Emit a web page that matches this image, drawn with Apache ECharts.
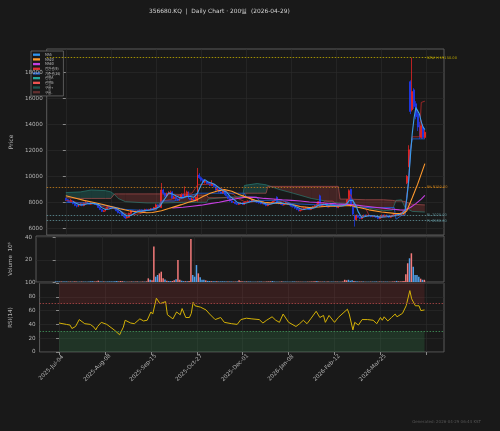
<!DOCTYPE html>
<html><head><meta charset="utf-8">
<script src="https://cdn.jsdelivr.net/npm/echarts@6/dist/echarts.min.js"></script>
<style>html,body{margin:0;padding:0;background:#191919;}#c{width:500px;height:431px;}</style>
</head><body><div id="c"></div>
<script>
// ---------- DATA ----------
const tickIdx = [0,25,50,75,100,125,150,175,200];
const tickLabels = ['2025-Jul-04','2025-Aug-08','2025-Sep-15','2025-Oct-27','2025-Dec-01','2026-Jan-08','2026-Feb-12','2026-Mar-25'];

const opens = [8300,8200,8100,8000,8100,7900,7750,7700,7800,7850,
7750,7950,8000,7900,7850,7950,7900,7850,7800,7600,
7450,7300,7350,7500,7650,7600,7550,7600,7500,7350,
7200,7150,7000,6900,6800,6850,7150,7350,7300,7250,
7300,7350,7400,7300,7350,7450,7400,7450,7500,7450,
7600,7800,7700,7600,8950,8700,8500,8650,8750,8800,
8300,8400,8250,8150,8300,8600,8450,8500,8800,8300,
8200,8250,8150,8100,10100,9900,9750,9550,9600,9500,
9450,9300,9400,9200,8950,9000,8800,8700,8900,8600,
8500,8300,8100,8000,8000,7900,7850,7900,7950,7850,
8000,8050,8100,8050,8200,8100,8050,8000,7950,7900,
7950,7850,7750,7850,7900,8000,8100,8400,7950,7900,
7850,7800,7900,8000,7850,7800,7700,7650,7550,7450,
7350,7400,7450,7550,7600,7500,7450,7550,7650,7750,
7850,8500,7700,7800,7850,7900,7650,7750,7900,7800,
7700,7600,7700,7800,7750,7800,7900,8200,9000,7700,
7000,6650,7000,6850,6750,6900,7000,6950,7000,6950,
6900,6950,6900,6850,6750,6850,7000,6900,7000,6950,
6850,6950,7000,7050,7100,7050,7100,7200,7250,9500,
10750,17300,15130,16670,15600,14800,14000,13000,13800,13000];

const closes = [8200,8100,8000,8150,7900,7750,7700,7800,7850,7750,
7950,8000,7900,7850,7950,7900,7850,7800,7600,7450,
7300,7350,7500,7650,7600,7550,7600,7500,7350,7200,
7150,7000,6900,6800,6850,7150,7350,7300,7250,7300,
7350,7400,7300,7350,7450,7400,7450,7500,7450,7600,
7800,7700,7750,8950,8700,8500,8650,8750,8800,8300,
8400,8250,8150,8300,8600,8450,8500,8800,8300,8200,
8250,8150,8400,10100,9900,9700,9550,9600,9500,9450,
9300,9400,9200,8950,9000,8800,8700,8900,8600,8500,
8300,8100,8000,8000,7900,7850,7900,7950,7850,8000,
8050,8100,8050,8200,8100,8050,8000,7950,7900,7950,
7850,7750,7850,7900,8000,8100,8200,7950,7900,7850,
7800,7900,8000,7850,7800,7700,7650,7550,7450,7350,
7400,7450,7550,7600,7500,7450,7550,7650,7750,7850,
8050,7700,7800,7850,7900,7650,7750,7900,7800,7700,
7600,7700,7800,7750,7800,7900,8200,8900,7800,7100,
6650,7000,6850,6750,6900,7000,6950,7000,6950,6900,
6950,6900,6850,6750,6850,7000,6900,7000,6950,6850,
6950,7000,7050,7100,7050,7100,7200,7250,7350,10000,
12050,15000,16540,15380,14600,13800,13000,13900,13000,13400];

const highs = [8350,8250,8150,8250,8150,7950,7800,7850,7950,7900,
8000,8100,8050,7950,8000,8000,7950,7900,7850,7650,
7500,7400,7550,7750,7700,7650,7650,7650,7550,7400,
7250,7200,7050,6950,6950,7200,7400,7400,7350,7350,
7400,7450,7450,7400,7500,7500,7500,7550,7550,7650,
7900,7850,7800,9490,9050,8750,8750,8850,8900,8850,
8500,8450,8300,8350,8700,8650,9230,8900,8850,8350,
8350,8300,8450,10650,10250,10000,9850,9750,9650,9550,
9500,9700,9450,9250,9100,9050,8850,8950,8950,8650,
8550,8350,8150,8050,8050,7950,7950,8000,8000,8050,
8100,8150,8150,8250,8250,8150,8100,8050,8000,8000,
8000,7900,7900,7950,8050,8150,8250,8460,8000,7950,
7900,7950,8050,8050,7900,7850,7750,7700,7600,7500,
7450,7500,7600,7650,7650,7550,7600,7700,7800,7900,
8100,8590,7850,7900,7950,7950,7800,7950,7950,7850,
7750,7750,7850,7850,7850,7950,8250,9000,9050,7750,
7050,7050,7050,6900,6950,7050,7050,7050,7050,7000,
7000,7000,6950,6900,6900,7050,7050,7050,7050,7000,
7000,7050,7100,7150,7150,7150,7250,7300,7400,10100,
12400,17400,19150,16800,15800,15000,14200,14300,14000,13600];

const lows = [8100,8050,7950,7950,7850,7700,7600,7650,7750,7700,
7700,7900,7850,7800,7800,7850,7800,7750,7550,7400,
7250,7250,7300,7450,7550,7500,7500,7450,7300,7150,
7100,6950,6850,6720,6750,6800,7100,7250,7200,7200,
7250,7300,7250,7250,7300,7350,7350,7400,7400,7400,
7550,7650,7650,7550,8600,8400,8450,8600,8650,8250,
8250,8200,8100,8100,8250,8400,8400,8450,8250,8150,
8150,8100,8100,8050,9800,9600,9450,9450,9400,9350,
9250,9250,9150,8900,8900,8750,8650,8650,8550,8450,
8250,8050,7950,7950,7850,7800,7800,7850,7800,7800,
7950,8000,8000,8000,8050,8000,7950,7900,7850,7850,
7800,7700,7700,7800,7850,7950,8050,7900,7850,7800,
7750,7750,7850,7800,7750,7650,7600,7500,7400,7300,
7300,7350,7400,7500,7450,7400,7400,7500,7600,7700,
7800,7650,7650,7750,7800,7600,7600,7700,7750,7650,
7550,7550,7650,7700,7700,7750,7850,8150,7650,7000,
6130,6600,6800,6700,6700,6850,6900,6900,6900,6850,
6850,6850,6800,6700,6700,6800,6850,6850,6900,6800,
6800,6900,6950,7000,7000,7000,7050,7150,7200,9400,
10700,14800,15000,15200,14400,13500,12900,12900,12900,12900];

const volumes = [0.6,0.5,0.5,0.4,0.5,0.4,0.4,0.3,0.4,0.3,
0.5,0.4,0.3,0.3,0.4,0.3,0.3,0.3,0.5,0.6,
0.7,0.4,0.5,1.2,0.5,0.4,0.4,0.3,0.4,0.5,
0.4,0.5,0.6,0.8,0.5,0.9,0.7,0.4,0.3,0.3,
0.3,0.4,0.3,0.3,0.4,0.3,0.3,0.4,0.3,0.5,
3.3,2.0,1.5,32,4.8,6.3,7.8,9.3,3.3,2.2,
1.2,0.9,0.8,0.9,1.5,2.4,19.9,2.0,1.2,0.8,
0.7,0.6,1.0,38.8,6.3,4.8,15.3,7.8,4.2,2.0,
2.0,1.5,1.0,0.9,0.7,0.6,0.6,0.7,0.5,0.5,
0.6,0.5,0.5,0.4,0.4,0.4,0.3,0.3,0.4,1.5,
0.6,0.5,0.4,0.5,0.4,0.4,0.3,0.3,0.3,0.3,
0.4,0.4,0.3,0.3,0.4,0.5,0.6,0.9,0.4,0.3,
0.3,0.3,0.5,0.3,0.3,0.3,0.3,0.3,0.4,0.4,
0.3,0.3,0.3,0.3,0.3,0.3,0.3,0.3,0.4,0.4,
0.6,1.0,0.4,0.3,0.3,0.4,0.3,0.4,0.3,0.3,
0.3,0.3,0.3,0.3,0.3,0.5,2.0,1.5,2.0,1.2,
1.5,0.8,0.6,0.5,0.4,0.4,0.4,0.3,0.3,0.3,
0.3,0.3,0.3,0.4,0.3,0.4,0.3,0.3,0.3,0.3,
0.3,0.3,0.4,0.5,1.0,0.6,0.5,0.6,1.0,6.9,
16.9,21.4,25.9,13.8,6.3,6.3,4.8,3.0,2.0,2.0];

const ma5 = [[4,8070],[6,7900],[8,7800],[10,7810],[12,7890],[14,7930],[16,7900],[18,7820],[20,7590],[22,7440],[24,7480],[26,7580],[28,7520],[30,7360],[32,7120],[34,6940],[36,6990],[38,7150],[40,7300],[42,7320],[44,7360],[46,7390],[48,7450],[50,7540],[52,7660],[53,7900],[55,8300],[57,8720],[59,8640],[61,8500],[63,8370],[65,8360],[67,8470],[69,8450],[71,8390],[72,8370],[73,8700],[74,9040],[75,9330],[76,9560],[77,9750],[79,9560],[81,9470],[83,9330],[85,9100],[87,8920],[89,8800],[91,8460],[93,8240],[95,7990],[97,7920],[99,7910],[101,7980],[103,8080],[105,8100],[107,8060],[109,7960],[111,7880],[113,7850],[115,7920],[116,8000],[118,8030],[120,7940],[122,7890],[124,7870],[126,7790],[128,7630],[130,7510],[132,7440],[134,7510],[136,7530],[138,7580],[140,7770],[141,7800],[143,7850],[145,7800],[147,7780],[149,7750],[151,7740],[153,7710],[155,7790],[156,7890],[157,8120],[158,8130],[159,8160],[160,7930],[161,7690],[162,7280],[164,6830],[166,6900],[168,6960],[170,6960],[172,6920],[174,6860],[176,6870],[178,6890],[180,6920],[182,6970],[184,7040],[186,7100],[187,7140],[188,7400],[189,8300],[190,9700],[191,11600],[192,13300],[193,14500],[194,15300],[195,15250],[196,14800],[197,14200],[198,13800],[199,13600]];

const ma20 = [[0,8500],[5,8330],[10,8150],[15,8000],[20,7850],[25,7680],[30,7500],[35,7350],[40,7250],[45,7200],[48,7220],[53,7350],[57,7520],[60,7650],[64,7820],[68,8000],[72,8150],[76,8450],[80,8700],[84,8870],[88,8980],[92,8850],[96,8600],[100,8400],[105,8150],[110,8000],[115,7950],[120,7920],[125,7830],[130,7680],[135,7600],[140,7640],[145,7700],[150,7700],[155,7740],[158,7760],[162,7620],[168,7420],[175,7250],[182,7150],[187,7120],[189,7350],[192,8350],[195,9400],[199,10980]];

const ma60 = [[59,7560],[65,7620],[70,7700],[75,7780],[80,7900],[85,8000],[90,8150],[95,8300],[100,8400],[105,8380],[110,8300],[115,8260],[120,8200],[125,8150],[130,8100],[135,8030],[140,7980],[145,7930],[150,7880],[155,7840],[160,7800],[165,7720],[170,7640],[175,7560],[180,7480],[185,7420],[188,7400],[191,7600],[194,7900],[197,8250],[199,8540]];

const tenkan = [[0,8150],[4,8050],[8,7950],[12,7900],[16,7900],[20,7700],[24,7550],[28,7500],[32,7200],[35,7050],[38,7050],[42,7150],[45,7400],[50,7450],[53,8100],[58,8200],[62,8500],[66,8700],[70,8700],[73,9350],[80,9400],[82,9450],[84,9200],[88,8950],[90,8750],[93,8600],[96,8250],[100,8000],[104,8050],[108,8100],[112,7900],[116,7950],[120,8100],[124,7950],[128,7750],[132,7550],[136,7550],[140,7750],[144,8100],[148,8100],[150,7800],[154,7750],[156,8000],[157,8400],[158,8600],[160,7600],[166,7600],[168,7000],[172,6900],[178,6900],[182,6950],[186,7000],[188,7100],[189,8600],[190,9700],[191,12100],[192,13050],[196,13050],[197,15700],[199,15800]];

const kijun = [[0,8000],[12,7950],[20,7800],[28,7600],[33,7450],[40,7400],[50,7400],[53,8100],[60,8100],[73,8700],[99,8700],[100,8400],[106,8400],[107,8150],[120,8150],[125,7900],[140,7800],[156,7800],[157,8200],[159,8200],[160,7600],[182,7600],[183,6700],[186,6980],[188,6980],[189,8380],[190,9480],[191,12030],[192,12890],[199,12890]];

const cloudIdx = [0,8,14,22,25,27,29,33,45,55,65,78,79,90,98,99,100,106,111,112,118,126,136,146,151,152,156,166,176,181,183,186,188,192,199];
const spanA = [8750,8800,8950,8900,8800,8600,8300,8050,7950,7950,8000,8000,8250,8400,8450,9300,9350,9450,9350,9300,9000,8700,8300,8050,7950,7950,7900,7600,7350,7400,8150,8200,7600,7300,7250];
const spanB = [8350,8300,8300,8300,8300,8650,8650,8650,8650,8650,8600,8550,8350,8350,8350,8700,8700,8700,8700,9230,9230,9230,9230,9230,9230,8250,8250,8200,8200,8150,8100,8100,8050,7850,7800];

const rsi = [[0,42],[4,40],[6,39],[7,34],[9,37],[11,47],[14,41],[17,40],[19,36],[20,32],[21,37],[23,43],[26,40],[27,39],[30,32],[33,25],[35,36],[36,46],[39,42],[41,41],[44,48],[46,45],[48,46],[50,58],[51,55],[53,78],[55,70],[58,73],[59,54],[62,48],[64,58],[66,54],[67,63],[69,50],[71,50],[72,56],[73,72],[74,67],[77,65],[80,61],[82,55],[85,47],[88,50],[90,43],[92,42],[94,41],[97,40],[99,47],[102,49],[103,51],[105,48],[109,47],[111,42],[113,46],[116,51],[118,46],[120,43],[122,55],[125,43],[129,37],[131,41],[133,46],[135,41],[137,48],[140,59],[142,50],[144,53],[145,43],[147,53],[150,43],[152,50],[157,62],[158,55],[160,32],[161,43],[163,39],[165,47],[168,47],[171,46],[173,41],[175,50],[176,46],[177,51],[179,45],[181,50],[183,55],[184,51],[187,56],[189,67],[191,89],[192,77],[194,67],[196,67],[197,60],[199,61]];

const levels = [19150, 9150, 7020, 6580];
const levelLabels = ['52W H 19150.00', 'PH 9150.00', 'PL 7020.00', 'PL 6580.00'];
const priceTicks = [6000,8000,10000,12000,14000,16000,18000];

// ---------- STYLE ----------
const BG = '#191919';
const UP = '#ff2626', DOWN = '#1f3cff';
const VUP = '#f47a7a', VDOWN = '#4f9ee8';
const C = {ma5:'#3d9be9', ma20:'#ff9a2e', ma60:'#c53fe0', tenkan:'#b72a2a', kijun:'#1d5fd6',
           spanA:'#2a8a7e', spanB:'#c25555', cloudUp:'rgba(38,166,154,0.24)', cloudDn:'rgba(200,70,70,0.24)'};
const levelColors = ['#b8a400', '#c07a1a', '#5d8c93', '#5d8c93'];
const lblColor = '#b4b4b4';
const FONT = 'DejaVu Sans';
const n = closes.length;
const xMin = -10.6, xMax = 209.6;
const topTick = priceTicks[priceTicks.length - 1];

function xAxisFor(g, labels) {
  return {
    type: 'value', gridIndex: g, min: xMin, max: xMax,
    axisLine: {show: false},
    axisTick: {show: labels, length: 3, lineStyle: {color: '#888'}, customValues: tickIdx},
    axisLabel: labels ? {show: true, customValues: tickIdx.slice(0, tickLabels.length),
      formatter: v => tickLabels[Math.round(v / 25)] || '', rotate: 45, align: 'center', verticalAlign: 'middle',
      margin: 8, padding: [0, 22, 0, 0], fontSize: 5.6, color: lblColor, fontFamily: FONT} : {show: false},
    splitLine: {show: true, lineStyle: {color: '#2b2b2b', width: 0.6}}
  };
}

const candleData = [];
for (let i = 0; i < n; i++) candleData.push([i, opens[i], closes[i], lows[i], highs[i]]);
const volData = [];
for (let i = 0; i < n; i++) volData.push({value: [i, volumes[i]], itemStyle: {color: closes[i] >= opens[i] ? VUP : VDOWN}});

function cloudRender(sign) {
  return function (params, api) {
    const i = params.dataIndex;
    if (i >= cloudIdx.length - 1) return null;
    const a0 = api.coord([cloudIdx[i], spanA[i]]), a1 = api.coord([cloudIdx[i+1], spanA[i+1]]);
    const b0 = api.coord([cloudIdx[i], spanB[i]]), b1 = api.coord([cloudIdx[i+1], spanB[i+1]]);
    const d0 = spanA[i] - spanB[i], d1 = spanA[i+1] - spanB[i+1];
    const color = sign > 0 ? C.cloudUp : C.cloudDn;
    const polys = [];
    if (d0 * d1 >= 0) {
      const s = (d0 + d1);
      if ((sign > 0 && s > 0) || (sign < 0 && s < 0)) polys.push([a0, a1, b1, b0]);
    } else {
      const t = d0 / (d0 - d1);
      const x = [a0[0] + t * (a1[0] - a0[0]), a0[1] + t * (a1[1] - a0[1])];
      if ((d0 > 0) === (sign > 0)) polys.push([a0, x, b0]);
      if ((d1 > 0) === (sign > 0)) polys.push([x, a1, b1]);
    }
    return {type: 'group', children: polys.map(p => ({type: 'polygon', shape: {points: p}, style: {fill: color}}))};
  };
}
const cloudData = cloudIdx.map((x, k) => [x, spanA[k], spanB[k]]);

function lineSeries(name, data, color, width, z, opacity) {
  return {name, type: 'line', xAxisIndex: 0, yAxisIndex: 0, data, showSymbol: false, symbol: 'none',
    lineStyle: {color, width, opacity: opacity == null ? 1 : opacity}, itemStyle: {color}, z, silent: true, animation: false};
}

const yLabel = {fontSize: 5.6, color: lblColor, margin: 4, fontFamily: FONT};

const markPts = levels.map((v, k) => ({coord: [200, v], symbol: 'rect', symbolSize: 0,
  label: {show: true, position: 'right', distance: 0, formatter: levelLabels[k], color: levelColors[k], fontSize: 3.6, fontFamily: FONT}}));

const chart = echarts.init(document.getElementById('c'), null, {renderer: 'canvas'});
chart.setOption({
  backgroundColor: BG,
  animation: false,
  textStyle: {fontFamily: FONT},
  title: [
    {text: '356680.KQ  |  Daily Chart · 200일  (2026-04-29)', left: 144, top: 3,
     textStyle: {color: '#d2d2d2', fontSize: 5.9, fontWeight: 'normal', fontFamily: FONT}},
    {text: 'Generated: 2026-04-29 06:44 KST', right: 14, bottom: 2,
     textStyle: {color: '#555', fontSize: 4, fontWeight: 'normal', fontFamily: FONT}}
  ],
  legend: {
    orient: 'vertical', left: 31, top: 51, icon: 'rect', itemWidth: 7, itemHeight: 2.3, itemGap: 1.3,
    padding: [2, 3, 2, 2], backgroundColor: BG, borderColor: '#6a6a6a', borderWidth: 0.8,
    textStyle: {color: '#c0c0c0', fontSize: 3.4, fontFamily: 'Noto Sans CJK KR'},
    selectedMode: false,
    data: [
      {name: 'MA5', itemStyle: {color: '#2f96f0'}},
      {name: 'MA20', itemStyle: {color: '#ff9a2e'}},
      {name: 'MA60', itemStyle: {color: '#c53fe0'}},
      {name: '전환선(9)', itemStyle: {color: '#e03030'}},
      {name: '기준선(26)', itemStyle: {color: '#2060d0'}},
      {name: '선행A', itemStyle: {color: '#26a69a'}},
      {name: '선행B', itemStyle: {color: '#ef5350'}},
      {name: '구름+', itemStyle: {color: '#1f5550'}},
      {name: '구름-', itemStyle: {color: '#633030'}}
    ]
  },
  grid: [
    {left: 30, top: 49, width: 414, height: 186, show: true, borderColor: '#5a5a5a', borderWidth: 1, backgroundColor: BG},
    {left: 30, top: 236, width: 414, height: 46, show: true, borderColor: '#5a5a5a', borderWidth: 1, backgroundColor: BG},
    {left: 30, top: 283, width: 414, height: 69, show: true, borderColor: '#5a5a5a', borderWidth: 1, backgroundColor: BG}
  ],
  xAxis: [xAxisFor(0, false), xAxisFor(1, false), xAxisFor(2, true)],
  yAxis: [
    {type: 'value', gridIndex: 0, min: 5480, max: 19820, name: 'Price', nameLocation: 'middle', nameGap: 21,
     nameTextStyle: {color: lblColor, fontSize: 6, fontFamily: FONT},
     axisLine: {show: false}, axisTick: {show: true, length: 3, lineStyle: {color: '#888'}, customValues: priceTicks},
     axisLabel: Object.assign({customValues: priceTicks.slice(0, -1), formatter: v => String(v)}, yLabel),
     splitLine: {show: true, lineStyle: {color: '#2b2b2b', width: 0.6}}},
    {type: 'value', gridIndex: 1, min: 0, max: 41.5, name: 'Volume  10⁶', nameLocation: 'middle', nameGap: 14,
     nameTextStyle: {color: lblColor, fontSize: 5.6, fontFamily: FONT},
     axisLine: {show: false}, axisTick: {show: true, length: 3, lineStyle: {color: '#888'}, customValues: [0, 20, 40]},
     axisLabel: Object.assign({customValues: [20, 40]}, yLabel),
     splitLine: {show: true, lineStyle: {color: '#2b2b2b', width: 0.6}}},
    {type: 'value', gridIndex: 2, min: 0, max: 100, interval: 20, name: 'RSI(14)', nameLocation: 'middle', nameGap: 16,
     nameTextStyle: {color: lblColor, fontSize: 5.6, fontFamily: FONT},
     axisLine: {show: false}, axisTick: {show: true, length: 3, lineStyle: {color: '#888'}},
     axisLabel: Object.assign({}, yLabel),
     splitLine: {show: true, lineStyle: {color: '#2b2b2b', width: 0.6}}}
  ],
  series: [
    {name: '구름+', type: 'custom', xAxisIndex: 0, yAxisIndex: 0, data: cloudData, encode: {x: 0, y: [1, 2]},
     renderItem: cloudRender(1), itemStyle: {color: '#1f5550'}, z: 1, silent: true, clip: true},
    {name: '구름-', type: 'custom', xAxisIndex: 0, yAxisIndex: 0, data: cloudData, encode: {x: 0, y: [1, 2]},
     renderItem: cloudRender(-1), itemStyle: {color: '#633030'}, z: 1, silent: true, clip: true},
    lineSeries('선행A', cloudIdx.map((x, k) => [x, spanA[k]]), C.spanA, 0.8, 2, 0.75),
    lineSeries('선행B', cloudIdx.map((x, k) => [x, spanB[k]]), C.spanB, 0.8, 2, 0.75),
    {name: 'Candles', type: 'candlestick', xAxisIndex: 0, yAxisIndex: 0, data: candleData,
     encode: {x: 0, y: [1, 2, 3, 4]}, barWidth: 1.4, z: 3, silent: true,
     itemStyle: {color: UP, color0: DOWN, borderColor: UP, borderColor0: DOWN, borderWidth: 0.7},
     markLine: {symbol: 'none', silent: true, label: {show: false}, animation: false,
       data: levels.map((v, k) => ({yAxis: v, lineStyle: {color: levelColors[k], type: [1.5, 1.5], width: 1, opacity: 0.85}}))},
     markPoint: {silent: true, animation: false, data: markPts}},
    lineSeries('전환선(9)', tenkan, C.tenkan, 0.9, 4, 0.9),
    lineSeries('기준선(26)', kijun, C.kijun, 0.9, 4, 0.9),
    lineSeries('MA60', ma60, C.ma60, 1.1, 5),
    lineSeries('MA20', ma20, C.ma20, 1.1, 5),
    lineSeries('MA5', ma5, C.ma5, 1.1, 5),
    {name: 'Volume', type: 'bar', xAxisIndex: 1, yAxisIndex: 1, data: volData, barWidth: 1.5, silent: true, z: 3},
    {name: 'RSI', type: 'line', xAxisIndex: 2, yAxisIndex: 2, data: rsi, showSymbol: false, symbol: 'none', silent: true,
     lineStyle: {color: '#d4b106', width: 1}, z: 4,
     markArea: {silent: true, data: [
       [{coord: [0, 70], itemStyle: {color: 'rgba(200,60,60,0.17)'}}, {coord: [n - 1, 100]}],
       [{coord: [0, 0], itemStyle: {color: 'rgba(60,160,90,0.2)'}}, {coord: [n - 1, 30]}]
     ]},
     markLine: {symbol: 'none', silent: true, label: {show: false}, data: [
       {yAxis: 70, lineStyle: {color: '#a04444', type: [1.5, 1.5], width: 0.9}},
       {yAxis: 30, lineStyle: {color: '#3e8a55', type: [1.5, 1.5], width: 0.9}}
     ]}}
  ]
});

// top price tick label: y from the chart's own scale, text width measured so it ends 4px left of the axis
const p = chart.convertToPixel({gridIndex: 0}, [xMin, topTick]);
const ctx = document.createElement('canvas').getContext('2d');
ctx.font = '5.6px "' + FONT + '"';
const tw = ctx.measureText(String(topTick)).width;
chart.setOption({graphic: [{type: 'text', x: p[0] - 4 - tw, y: p[1] - 3.3, z: 100, silent: true,
  style: {text: String(topTick), align: 'left', textAlign: 'left', verticalAlign: 'top', textVerticalAlign: 'top',
          fill: lblColor, fontSize: 5.6, fontFamily: FONT}}]});
</script></body></html>
